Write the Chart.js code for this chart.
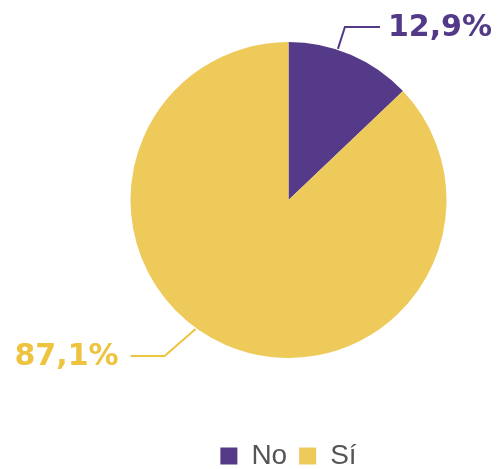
<!DOCTYPE html>
<html>
<head>
<meta charset="utf-8">
<script src="https://cdn.jsdelivr.net/npm/chart.js@4"></script>
<style>
  html, body { margin: 0; padding: 0; background: #fff; }
  #wrap { width: 500px; height: 469px; position: relative; }
</style>
</head>
<body>
<div id="wrap"><canvas id="pie-chart"></canvas></div>
<script>
var labels = ["No", "Sí"];
var values = [12.9, 87.1];
var valueLabels = ["12,9%", "87,1%"];
var colors = ["#543A88", "#EECA5B"];
var textColors = ["#533A88", "#EDC33F"];

// where each leader line leaves the arc (fraction of slice) and how it bends
var leaders = [
  {frac: 0.39, dx: 7, dy: -22, run: 35, gap: 8},
  {frac: 0.54, dx: -31, dy: 27, run: -34, gap: 12}
];

// give the legend a fixed height so the pie keeps its size
var legendHeightPlugin = {
  id: 'legendHeight',
  beforeLayout: function(chart) {
    var lg = chart.legend;
    if (lg && !lg._fixedFit) {
      var fit = lg.fit;
      lg.fit = function() { fit.call(this); this.height = 111; };
      lg._fixedFit = true;
    }
  }
};

var leaderPlugin = {
  id: 'leaders',
  afterDatasetsDraw: function(chart) {
    var ctx = chart.ctx;
    var meta = chart.getDatasetMeta(0);
    meta.data.forEach(function(arc, i) {
      var p = arc.getProps(['x', 'y', 'startAngle', 'endAngle', 'outerRadius'], true);
      var L = leaders[i];
      var a = p.startAngle + (p.endAngle - p.startAngle) * L.frac;
      var x0 = p.x + Math.cos(a) * (p.outerRadius + 1);
      var y0 = p.y + Math.sin(a) * (p.outerRadius + 1);
      var x1 = x0 + L.dx, y1 = y0 + L.dy;
      var x2 = x1 + L.run;
      ctx.save();
      ctx.strokeStyle = textColors[i];
      ctx.lineWidth = 2;
      ctx.beginPath();
      ctx.moveTo(x0, y0);
      ctx.lineTo(x1, y1);
      ctx.lineTo(x2, y1);
      ctx.stroke();
      ctx.fillStyle = textColors[i];
      ctx.font = 'bold 30px "DejaVu Sans"';
      ctx.textBaseline = 'middle';
      if (L.run > 0) {
        ctx.textAlign = 'left';
        ctx.fillText(valueLabels[i], x2 + L.gap, y1 + 1);
      } else {
        ctx.textAlign = 'right';
        ctx.fillText(valueLabels[i], x2 - L.gap, y1 + 1);
      }
      ctx.restore();
    });
  }
};

var pieChart = new Chart(document.getElementById('pie-chart'), {
  type: 'pie',
  data: {
    labels: labels,
    datasets: [{
      data: values,
      backgroundColor: colors,
      borderWidth: 0
    }]
  },
  options: {
    responsive: true, maintainAspectRatio: false, animation: false,
    layout: {padding: {top: 42, left: 130, right: 53, bottom: 0}},
    plugins: {
      legend: {
        display: true, position: 'bottom',
        // empty title used as a spacer between pie and legend
        title: {display: true, text: '', font: {size: 10}, padding: {top: 60, bottom: 0}},
        labels: {font: {family: '"Liberation Sans"', size: 28}, color: '#555', boxWidth: 17, boxHeight: 17, padding: 12}
      },
      tooltip: {enabled: false}
    }
  },
  plugins: [legendHeightPlugin, leaderPlugin]
});
</script>
</body>
</html>
